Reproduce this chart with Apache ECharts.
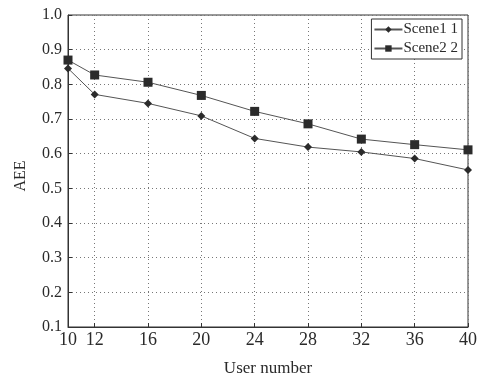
<!DOCTYPE html>
<html>
<head>
<meta charset="utf-8">
<script src="https://cdn.jsdelivr.net/npm/echarts@6/dist/echarts.min.js"></script>
<style>
  html, body { margin: 0; padding: 0; background: #fff; }
  #chart { width: 480px; height: 382px; }
</style>
</head>
<body>
<div id="chart"></div>
<script>
// User counts along the x axis and the tick positions shown
const userNumbers = [10, 12, 16, 20, 24, 28, 32, 36, 40];
const xTicks = [10, 12, 16, 20, 24, 28, 32, 36, 40];

// AEE for each scene
const scene1 = [0.846, 0.771, 0.745, 0.709, 0.644, 0.619, 0.605, 0.586, 0.553];
const scene2 = [0.870, 0.827, 0.806, 0.768, 0.722, 0.686, 0.642, 0.626, 0.611];

const seriesNames = ['Scene1 1', 'Scene2 2'];

const serif = 'Liberation Serif, Times New Roman, serif';
const ink = '#2a2a2a';

const pairs = (ys) => userNumbers.map((x, i) => [x, ys[i]]);

const chart = echarts.init(document.getElementById('chart'), null, { renderer: 'canvas' });

chart.setOption({
  backgroundColor: '#ffffff',
  animation: false,
  grid: {
    left: 68, right: 7, top: 15, bottom: 48,
    show: true, borderColor: '#333', borderWidth: 1, backgroundColor: 'transparent'
  },
  legend: {
    right: 18, top: 19,
    orient: 'vertical',
    data: seriesNames,
    itemWidth: 28, itemHeight: 8, itemGap: 4,
    padding: [3, 4, 3, 2],
    borderColor: '#333', borderWidth: 1,
    backgroundColor: '#fff',
    textStyle: { fontFamily: serif, fontSize: 15, color: ink, padding: [0, 0, 0, -4] }
  },
  xAxis: {
    type: 'value',
    min: 10, max: 40,
    name: 'User number',
    nameLocation: 'middle',
    nameGap: 33,
    nameTextStyle: { fontFamily: serif, fontSize: 17, color: ink },
    axisLine: { show: true, lineStyle: { color: '#333', width: 1 } },
    axisTick: { show: true, inside: true, length: 4, customValues: xTicks, lineStyle: { color: '#333' } },
    axisLabel: { customValues: xTicks, fontFamily: serif, fontSize: 18, color: ink, margin: 4 },
    splitLine: { show: true, lineStyle: { type: [1, 3], color: '#777', width: 1 } }
  },
  yAxis: {
    type: 'value',
    min: 0.1, max: 1.0, interval: 0.1,
    name: 'AEE',
    nameLocation: 'middle',
    nameGap: 39,
    nameTextStyle: { fontFamily: serif, fontSize: 16, color: ink, padding: [0, 0, 0, -10] },
    axisLine: { show: true, lineStyle: { color: '#333', width: 1 } },
    axisTick: { show: true, inside: true, length: 4, lineStyle: { color: '#333' } },
    axisLabel: {
      fontFamily: serif, fontSize: 16, color: ink, margin: 6,
      formatter: (v) => v.toFixed(1)
    },
    splitLine: { show: true, lineStyle: { type: [1, 3], color: '#777', width: 1 } }
  },
  series: [
    {
      name: seriesNames[0],
      type: 'line',
      data: pairs(scene1),
      symbol: 'diamond',
      symbolSize: 8,
      itemStyle: { color: '#2b2b2b' },
      lineStyle: { color: '#555', width: 1 }
    },
    {
      name: seriesNames[1],
      type: 'line',
      data: pairs(scene2),
      symbol: 'rect',
      symbolSize: 9,
      itemStyle: { color: '#2b2b2b' },
      lineStyle: { color: '#555', width: 1 }
    }
  ]
});
</script>
</body>
</html>
